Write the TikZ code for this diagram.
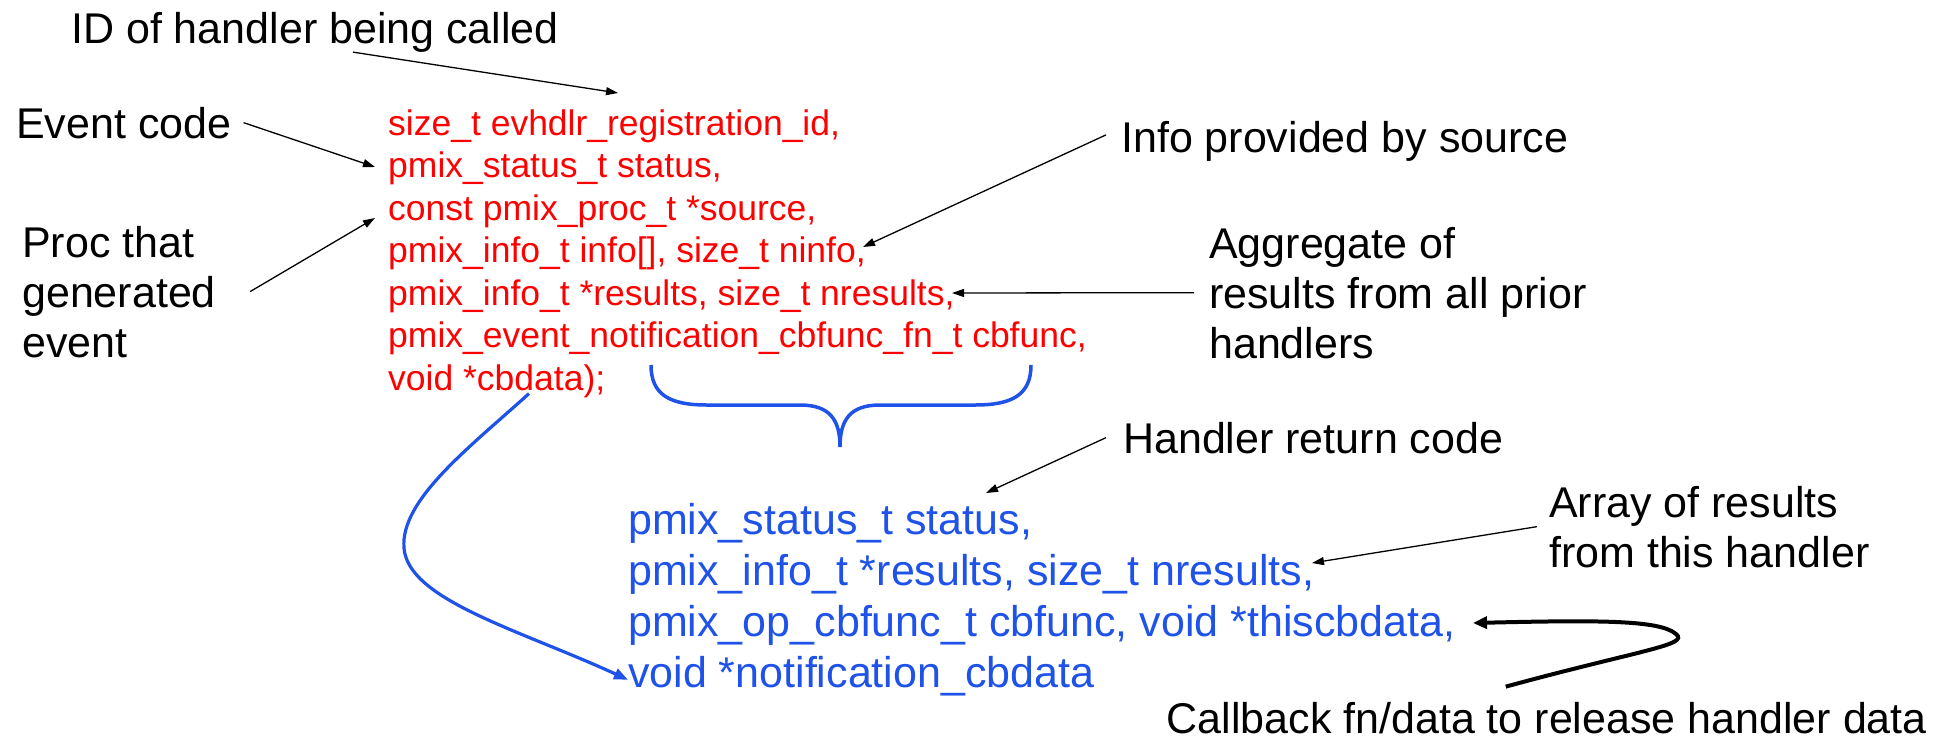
\documentclass[tikz,border=0pt]{standalone}
\usepackage{fontspec}
\setmainfont{Liberation Sans}
\usetikzlibrary{arrows.meta}
\definecolor{codered}{RGB}{255,0,0}
\definecolor{codeblue}{RGB}{30,82,232}

\begin{document}
\begin{tikzpicture}[x=1pt,y=-1pt,
  lbl/.style={inner sep=0pt, align=left, anchor=base west, font=\fontsize{43}{50}\selectfont},
  redcode/.style={inner sep=0pt, align=left, anchor=base west, text=codered, font=\fontsize{35.5}{42.5}\selectfont},
  bluecode/.style={inner sep=0pt, align=left, anchor=base west, text=codeblue, font=\fontsize{43}{51}\selectfont},
  note/.style={line width=1.3pt, -{Triangle[length=12pt,width=8pt]}},
  backarrow/.style={line width=4pt, -{Triangle[length=14pt,width=12pt]}},
  flow/.style={codeblue, line width=3.2pt, -{Triangle[length=14pt,width=11pt]}}]
\useasboundingbox (0,0) rectangle (1951,742);
%
% multi-line nodes sit on the baseline of their last line
\node[redcode] (args) at (388,390) {size\_t evhdlr\_registration\_id,\\
pmix\_status\_t status,\\
const pmix\_proc\_t *source,\\
pmix\_info\_t info[], size\_t ninfo,\\
pmix\_info\_t *results, size\_t nresults,\\
pmix\_event\_notification\_cbfunc\_fn\_t cbfunc,\\
void *cbdata);};
\node[bluecode] (reply) at (628,687) {pmix\_status\_t status,\\
pmix\_info\_t *results, size\_t nresults,\\
pmix\_op\_cbfunc\_t cbfunc, void *thiscbdata,\\
void *notification\_cbdata};
%
\node[lbl] (idlbl) at (71,43) {ID of handler being called};
\node[lbl] (evlbl) at (16,138) {Event code};
\node[lbl] (proclbl) at (22,357) {Proc that\\generated\\event};
\node[lbl] (infolbl) at (1121,152) {Info provided by source};
\node[lbl] (agglbl) at (1209,358) {Aggregate of\\results from all prior\\handlers};
\node[lbl] (retlbl) at (1123,453) {Handler return code};
\node[lbl] (arrlbl) at (1549,567) {Array of results\\from this handler};
\node[lbl, anchor=base east] (cblbl) at (1927,733) {Callback fn/data to release handler data};
%
\coordinate (idtip) at (618,93);
\coordinate (evtip) at (375,167);
\coordinate (proctip) at (375,218);
\coordinate (infotip) at (863,247);
\coordinate (aggtip) at (952,293);
\coordinate (rettip) at (986,493);
\coordinate (arrtip) at (1312,563);
\coordinate (cbtip) at (1473,623);
%
\draw[note] ([xshift=38pt]idlbl.south) -- (idtip);
\draw[note] ([xshift=12pt]evlbl.east) -- (evtip);
\draw[note] ([xshift=34pt]proclbl.east) -- (proctip);
\draw[note] ([xshift=-15pt,yshift=6pt]infolbl.west) -- (infotip);
\draw[note] ([xshift=-15pt]agglbl.west) -- (aggtip);
\draw[note] ([xshift=-17pt]retlbl.west) -- (rettip);
\draw[note] ([xshift=-12pt]arrlbl.west) -- (arrtip);
%
\draw[backarrow] ([xshift=-41pt,yshift=15pt]cblbl.north) .. controls (1640,650) and (1690,645) .. (1676,634)
  .. controls (1660,620) and (1600,620) .. (cbtip);
%
\draw[flow] ([xshift=141pt,yshift=4pt]args.south west) .. controls (470,447) and (400,500) .. (404,548)
  .. controls (408,600) and (520,630) .. ([yshift=16pt]reply.south west);
%
\draw[codeblue, line width=3.5pt] (651,365) .. controls (651,395) and (670,405) .. (707,405) -- (800,405)
  .. controls (830,405) and (840,420) .. (840,447) .. controls (840,420) and (850,405) .. (880,405)
  -- (975,405) .. controls (1012,405) and (1031,395) .. (1031,365);
\end{tikzpicture}
\end{document}
